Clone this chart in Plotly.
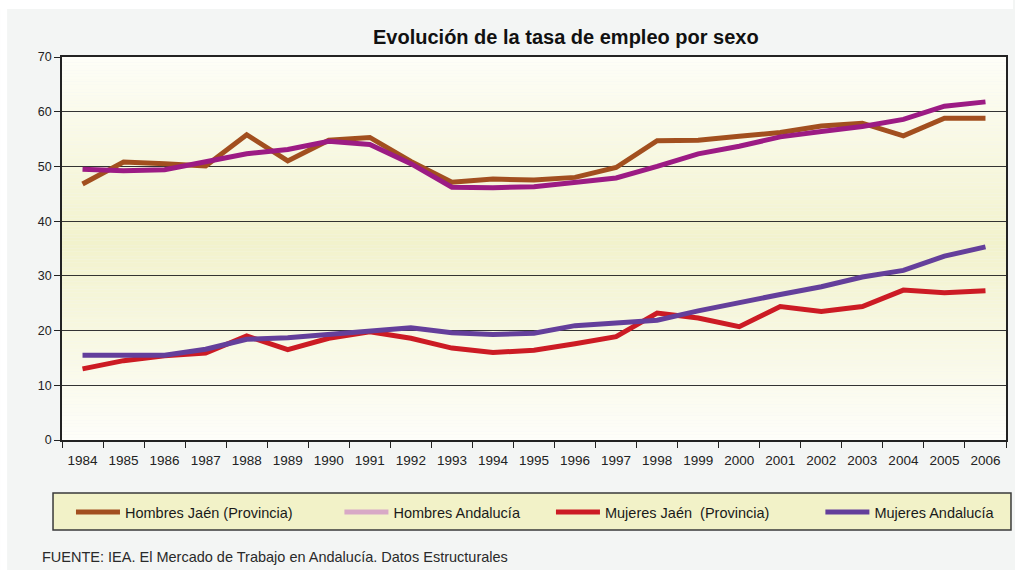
import plotly.graph_objects as go

# Employment rate by sex, 1984-2006
years = [str(y) for y in range(1984, 2007)]

hombres_jaen = [46.8, 50.8, 50.5, 50.1, 55.8, 51.0, 54.8, 55.3, 50.9, 47.1, 47.7,
                47.5, 48.0, 49.8, 54.7, 54.8, 55.5, 56.2, 57.4, 57.9, 55.6, 58.8, 58.8]
hombres_andalucia = [49.5, 49.2, 49.4, 50.8, 52.3, 53.1, 54.6, 54.0, 50.5, 46.2, 46.1,
                     46.3, 47.2, 47.9, 50.0, 52.3, 53.7, 55.4, 56.4, 57.3, 58.6, 61.0, 61.8]
mujeres_jaen = [13.0, 14.5, 15.4, 15.9, 19.0, 16.5, 18.6, 19.8, 18.6, 16.8, 16.0,
                16.4, 17.6, 18.9, 23.2, 22.3, 20.7, 24.4, 23.5, 24.4, 27.4, 26.9, 27.3]
mujeres_andalucia = [15.5, 15.5, 15.5, 16.6, 18.4, 18.7, 19.3, 20.0, 20.5, 19.6, 19.3,
                     19.5, 20.9, 21.4, 21.9, 23.6, 25.2, 26.6, 28.0, 29.8, 31.0, 33.6, 35.3]

series_names = ["Hombres Jaén (Provincia)", "Hombres Andalucía",
                "Mujeres Jaén  (Provincia)", "Mujeres Andalucía"]
series_values = [hombres_jaen, hombres_andalucia, mujeres_jaen, mujeres_andalucia]
line_colors = ["#A24F1F", "#9C1B84", "#CC1B24", "#643F9B"]
legend_colors = ["#A24F1F", "#D8A9C6", "#CC1B24", "#643F9B"]
y_ticks = [0, 10, 20, 30, 40, 50, 60, 70]

W, H = 1015, 570
L, R, T, B = 62, 7, 57, 130
pw, ph = W - L - R, H - T - B


def px_x(x):
    return (x - L) / pw


def px_y(y):
    return (H - B - y) / ph


fig = go.Figure()

legend_x = [77, 346, 558, 828]
for i, (name, vals, lc, gc) in enumerate(zip(series_names, series_values,
                                               line_colors, legend_colors)):
    fig.add_trace(go.Scatter(x=years, y=vals, mode="lines", name=name,
                             line=dict(color=lc, width=5), showlegend=False,
                             hoverinfo="x+y+name"))
    # legend entry
    key = "legend" if i == 0 else f"legend{i + 1}"
    fig.add_trace(go.Scatter(x=[None], y=[None], mode="lines", name=name,
                             line=dict(color=gc, width=5), legend=key,
                             showlegend=True))

legend_common = dict(orientation="h", bgcolor="rgba(0,0,0,0)", borderwidth=0,
                     font=dict(family="Liberation Sans", size=14.5, color="#1a1a1a"),
                     yanchor="middle", xanchor="left", itemwidth=44,
                     yref="paper", xref="paper")
fig.update_layout(
    legend=dict(x=px_x(legend_x[0] - 6), y=px_y(512), **legend_common),
    legend2=dict(x=px_x(legend_x[1] - 6), y=px_y(512), **legend_common),
    legend3=dict(x=px_x(legend_x[2] - 6), y=px_y(512), **legend_common),
    legend4=dict(x=px_x(legend_x[3] - 6), y=px_y(512), **legend_common),
)

shapes = []
# white frame strips around the grey page
shapes.append(dict(type="rect", xref="paper", yref="paper", x0=px_x(0), x1=px_x(W),
                   y0=px_y(0), y1=px_y(9), fillcolor="white", line=dict(width=0),
                   layer="below"))
shapes.append(dict(type="rect", xref="paper", yref="paper", x0=px_x(0), x1=px_x(7),
                   y0=px_y(0), y1=px_y(H), fillcolor="white", line=dict(width=0),
                   layer="below"))

# vertical gradient of the plotting area: white at the edges, pale yellow in the middle
top_c = (254, 254, 248)
mid_c = (242, 242, 204)
bot_c = (254, 254, 250)
peak = 36.0
steps = 140
for k in range(steps):
    v0 = 70 * k / steps
    v1 = 70 * (k + 1) / steps
    vm = (v0 + v1) / 2
    if vm <= peak:
        t = vm / peak
        c = [bot_c[j] + (mid_c[j] - bot_c[j]) * t for j in range(3)]
    else:
        t = (vm - peak) / (70 - peak)
        c = [mid_c[j] + (top_c[j] - mid_c[j]) * t for j in range(3)]
    shapes.append(dict(type="rect", xref="paper", yref="y", x0=0, x1=1, y0=v0, y1=v1,
                       fillcolor="rgb(%d,%d,%d)" % tuple(round(x) for x in c),
                       line=dict(width=0), layer="below"))

# legend box
shapes.append(dict(type="rect", xref="paper", yref="paper",
                   x0=px_x(53), x1=px_x(1013), y0=px_y(493), y1=px_y(530),
                   fillcolor="#F2F2C8", line=dict(color="#3a3a3a", width=1.5),
                   layer="below"))

fig.update_layout(
    width=W, height=H,
    margin=dict(l=L, r=R, t=T, b=B, pad=0),
    paper_bgcolor="#F3F5F4",
    plot_bgcolor="rgba(0,0,0,0)",
    shapes=shapes,
    font=dict(family="Liberation Sans", size=12, color="#222"),
    annotations=[
        dict(text="<b>Evolución de la tasa de empleo por sexo</b>", xref="paper",
             yref="paper", x=px_x(567), y=px_y(37), showarrow=False,
             font=dict(family="Liberation Sans", size=20, color="#111"),
             xanchor="center", yanchor="middle"),
        dict(text="FUENTE: IEA. El Mercado de Trabajo en Andalucía. Datos Estructurales",
             xref="paper", yref="paper", x=px_x(40), y=px_y(557), showarrow=False,
             font=dict(family="Liberation Sans", size=14.5, color="#2a2a2a"),
             xanchor="left", yanchor="middle"),
    ],
    hovermode="closest",
)

fig.update_xaxes(type="category", categoryorder="array", categoryarray=years,
                 tickson="boundaries", ticks="outside", ticklen=6, tickwidth=1,
                 tickcolor="#222", showline=True, linecolor="#222", linewidth=1.5,
                 mirror=True, showgrid=False, range=[-0.5, len(years) - 0.5],
                 ticklabelstandoff=7,
                 tickfont=dict(family="Liberation Sans", size=13.5, color="#222"),
                 fixedrange=True)
fig.update_yaxes(range=[0, 70], tickvals=y_ticks, ticks="outside", ticklen=6,
                 tickwidth=1, tickcolor="#222", showline=True, linecolor="#222",
                 linewidth=1.5, mirror=True, showgrid=True, gridcolor="#333",
                 gridwidth=1, zeroline=False,
                 tickfont=dict(family="Liberation Sans", size=12.5, color="#222"),
                 fixedrange=True)

fig.write_html("out.html")
